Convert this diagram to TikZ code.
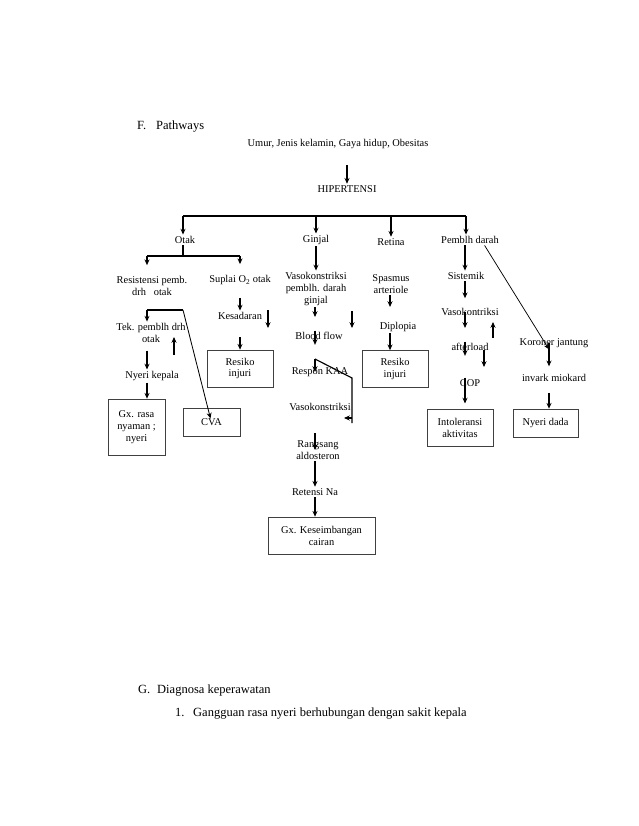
\documentclass[tikz,border=0pt]{standalone}
\usepackage{fontspec}
\setmainfont{Liberation Serif}
\usetikzlibrary{arrows.meta}
\tikzset{>={Stealth[length=5.5pt,width=4.8pt]}}
\usetikzlibrary{positioning}

\tikzset{
  isi/.style={align=center, inner sep=1.5pt, font=\fontsize{10}{11.5}\selectfont},
  kotak/.style={isi, draw=black!75, line width=0.6pt},
  judul/.style={anchor=base west, inner sep=0pt, font=\fontsize{12}{14}\selectfont},
  panah/.style={->, line width=1.1pt},
  garis/.style={line width=1.1pt}
}

\begin{document}
\begin{tikzpicture}[x=0.96pt,y=-0.96pt]
		\useasboundingbox (0,0) rectangle (638,826);
		% judul
		\node[judul] (fHuruf) at (137,130) {F.};
		\node[judul] (fJudul) at (156,130) {Pathways};
		\node[judul] (gHuruf) at (138,693) {G.};
		\node[judul] (gJudul) at (157,693) {Diagnosa keperawatan};
		\node[judul] (noSatu) at (175,716) {1.};
		\node[judul] (dxSatu) at (193,716) {Gangguan rasa nyeri berhubungan dengan sakit kepala};
		% kolom panah
		\coordinate (kolA) at (147,0);
		\coordinate (kolB) at (240,0);
		\coordinate (kolG) at (315,0);
		\coordinate (kolR) at (390,0);
		\coordinate (kolP) at (465,0);
		\coordinate (kolK) at (549,0);
		% teks
		\node[isi] (umur) at (338,144) {Umur, Jenis kelamin, Gaya hidup, Obesitas};
		\node[isi] (hiper) at (347,189) {HIPERTENSI};
		\node[isi] (otak) at (185,240) {Otak};
		\node[isi] (ginjal) at (316,240) {Ginjal};
		\node[isi] (retina) at (391,242) {Retina};
		\node[isi] (pembl) at (470,240) {Pemblh darah};
		\node[isi] (resist) at (152,286) {Resistensi pemb.\\drh\ \ \ otak};
		\node[isi] (suplai) at (240,280) {Suplai O\textsubscript{2} otak};
		\node[isi] (vasoG) at (316,289) {Vasokonstriksi\\pemblh. darah\\ginjal};
		\node[isi] (spasmus) at (391,284) {Spasmus\\arteriole};
		\node[isi] (sistemik) at (466,276) {Sistemik};
		\node[isi] (sadar) at (240,316) {Kesadaran};
		\node[isi] (blood) at (319,336) {Blood flow};
		\node[isi] (diplo) at (398,327) {Diplopia};
		\node[isi] (vasoP) at (470,312) {Vasokontriksi};
		\node[isi] (tek) at (151,333) {Tek. pemblh drh\\otak};
		\node[isi] (koroner) at (554,343) {Koroner jantung};
		\node[isi] (after) at (470,347) {afterload};
		\node[isi] (respon) at (320,372) {Respon KAA};
		\node[isi] (nyeriK) at (152,376) {Nyeri kepala};
		\node[isi] (invark) at (554,378) {invark miokard};
		\node[isi] (cop) at (470,383) {COP};
		\node[isi] (vasoK) at (320,407) {Vasokonstriksi};
		\node[isi] (rangsang) at (318,450) {Rangsang\\aldosteron};
		\node[isi] (retensi) at (315,492) {Retensi Na};
		% kotak
		\node[kotak, minimum width=63.4pt, minimum height=35.5pt] (resikoA) at (240,368.5) {Resiko\\injuri};
		\node[kotak, minimum width=63.4pt, minimum height=35.5pt] (resikoB) at (395,369) {Resiko\\injuri};
		\node[kotak, minimum width=54.7pt, minimum height=53.8pt] (gxRasa) at (136.5,427) {Gx. rasa\\nyaman ;\\nyeri};
		\node[kotak, minimum width=54.7pt, minimum height=26.9pt] (cva) at (211.5,422.5) {CVA};
		\node[kotak, minimum width=63.4pt, minimum height=35.5pt] (intol) at (460,427.5) {Intoleransi\\aktivitas};
		\node[kotak, minimum width=62.4pt, minimum height=26.9pt] (nyeriD) at (545.5,423) {Nyeri dada};
		\node[kotak, minimum width=102.7pt, minimum height=35.5pt] (gxKes) at (321.5,535.5) {Gx. Keseimbangan\\cairan};
		% hipertensi
		\draw[panah, shorten <=14pt] (umur.south -| hiper) -- (hiper.north);
		\coordinate (cabKiri) at (183,216);
		\coordinate (cabKanan) at (466,216);
		\draw[garis] (cabKiri) -- (cabKanan);
		\draw[panah] (cabKiri) -- (otak.north -| cabKiri);
		\draw[panah] (ginjal |- cabKiri) -- (ginjal.north);
		\draw[panah] (retina |- cabKiri) -- (retina.north);
		\draw[panah] (cabKanan) -- (pembl.north -| cabKanan);
		% otak
		\coordinate (otKiri) at (147,256);
		\coordinate (otKanan) at (240,256);
		\draw[garis] (otak.south -| cabKiri) -- (cabKiri |- otKiri);
		\draw[garis] (otKiri) -- (otKanan);
		\draw[panah, shorten >=9pt] (otKiri) -- (resist.north -| kolA);
		\draw[panah, shorten >=9pt] (otKanan) -- (suplai.north);
		\draw[panah, shorten <=11pt] (suplai.south -| kolB) -- (sadar.north -| kolB);
		\draw[panah, shorten <=15pt] (sadar.south -| kolB) -- (resikoA.north -| kolB);
		\coordinate (sadarA) at (268,310);
		\coordinate (sadarB) at (268,328);
		\draw[panah] (sadarA) -- (sadarB);
		\coordinate (resA) at (147,310);
		\coordinate (resB) at (183,310);
		\draw[garis] (resA) -- (resB);
		\draw[panah, line width=0.8pt, shorten >=4pt] (resB) -- (cva.center);
		\draw[panah] (resA) -- (tek.north -| kolA);
		\coordinate (tekA) at (174,355);
		\coordinate (tekB) at (174,337);
		\draw[panah] (tekA) -- (tekB);
		\draw[panah, shorten <=6pt] (tek.south -| kolA) -- (nyeriK.north -| kolA);
		\draw[panah] (nyeriK.south -| kolA) -- (gxRasa.north -| kolA);
		% ginjal
		\draw[panah] (ginjal.south) -- (vasoG.north);
		\draw[panah, shorten >=13pt] (vasoG.south -| kolG) -- (blood.north -| kolG);
		\draw[panah, shorten >=20pt] (blood.north -| kolG) -- (respon.north -| kolG);
		\coordinate (bloodA) at (352,311);
		\coordinate (bloodB) at (352,328);
		\draw[panah] (bloodA) -- (bloodB);
		\coordinate (kaaA) at (315,359);
		\coordinate (kaaB) at (352,378);
		\coordinate (kaaC) at (352,423);
		\coordinate (kaaD) at (352,418);
		\coordinate (kaaE) at (344,418);
		\draw[panah] (kaaA) -- (respon.center -| kaaA);
		\draw[garis] (kaaA) -- (kaaB) -- (kaaC);
		\draw[panah] (kaaD) -- (kaaE);
		\draw[panah, shorten <=20pt] (vasoK.south -| kolG) -- (rangsang.center -| kolG);
		\draw[panah] (rangsang.south -| kolG) -- (retensi.north -| kolG);
		\draw[panah] (retensi.south -| kolG) -- (gxKes.north -| kolG);
		% retina
		\draw[panah, shorten >=13pt] (spasmus.south -| kolR) -- (diplo.north -| kolR);
		\draw[panah] (diplo.south -| kolR) -- (resikoB.north -| kolR);
		% pembuluh darah
		\draw[panah] (pembl.south -| kolP) -- (sistemik.north -| kolP);
		\draw[panah, shorten >=8pt] (sistemik.south -| kolP) -- (vasoP.north -| kolP);
		\draw[panah, shorten >=13pt] (vasoP.center -| kolP) -- (after.north -| kolP);
		\draw[panah, shorten >=21pt] (after.north -| kolP) -- (cop.north -| kolP);
		\draw[panah, shorten >=5pt] (cop.north -| kolP) -- (intol.north -| kolP);
		\coordinate (vasoPA) at (493,338);
		\coordinate (vasoPB) at (493,322);
		\draw[panah] (vasoPA) -- (vasoPB);
		\coordinate (afterA) at (484,350);
		\coordinate (afterB) at (484,367);
		\draw[panah] (afterA) -- (afterB);
		\draw[->, line width=0.7pt] ([xshift=14pt]pembl.south) -- (koroner.south -| kolK);
		\draw[panah, shorten >=6pt] (koroner.center -| kolK) -- (invark.north -| kolK);
		\draw[panah, shorten <=9pt] (invark.south -| kolK) -- (nyeriD.north -| kolK);
\end{tikzpicture}
\end{document}
